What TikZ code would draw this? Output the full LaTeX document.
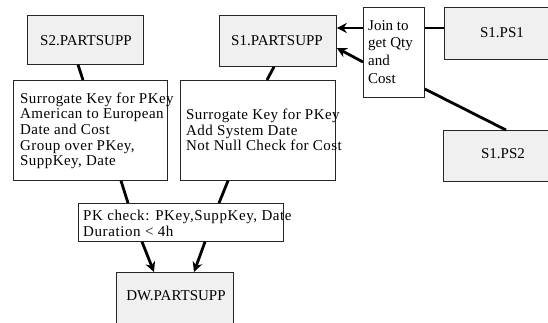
\documentclass[tikz,border=0pt]{standalone}
\usepackage{fontspec}
\setmainfont{Liberation Serif}
\usetikzlibrary{arrows.meta}
\begin{document}
\begin{tikzpicture}[x=1pt,y=-1pt,
  box/.style={draw=black!85,line width=0.8pt,rectangle,anchor=north west,inner sep=0pt},
  table/.style={box,fill=black!6},
  rule/.style={box,fill=white},
  label/.style={font=\fontsize{15}{16}\selectfont,inner sep=0pt},
  note/.style={inner sep=0pt,anchor=base west,align=left},
  link/.style={line width=2.8pt},
  flow/.style={line width=2.8pt,-{Stealth[length=10pt,width=10pt]}}]
\useasboundingbox (0,0) rectangle (548,323);
\clip (0,0) rectangle (548,323);

% source and target tables
\node[table,minimum width=116pt,minimum height=49pt] (s2) at (27,15) {};
\node[table,minimum width=117pt,minimum height=51pt] (s1) at (219,15) {};
\node[table,minimum width=110pt,minimum height=52pt] (ps1) at (444,7) {};
\node[table,minimum width=110pt,minimum height=51pt] (ps2) at (443,130) {};
\node[table,minimum width=117pt,minimum height=60pt] (dw) at (116,272) {};

% transformation boxes
\node[rule,minimum width=154pt,minimum height=100pt] (r1) at (13,80) {};
\node[rule,minimum width=155pt,minimum height=100pt] (r2) at (180,80) {};
\node[rule,minimum width=61pt,minimum height=90pt] (join) at (363,7) {};
\node[rule,minimum width=205pt,minimum height=38pt] (pk) at (78,203) {};

% table names
\node[label] (s2t) at (86,41) {S2.PARTSUPP};
\node[label] (s1t) at (277,41) {S1.PARTSUPP};
\node[label] (ps1t) at (502,33) {S1.PS1};
\node[label] (ps2t) at (503,154) {S1.PS2};
\node[label] (dwt) at (176,296) {DW.PARTSUPP};

% transformation texts (placed by the baseline of their last line)
\node[note,font=\fontsize{15}{15.7}\selectfont\addfontfeature{LetterSpace=3}] (r1t) at (20,166)
  {Surrogate Key for PKey\\American to European\\Date and Cost\\Group over PKey,\\SuppKey, Date};
\node[note,font=\fontsize{15}{15}\selectfont\addfontfeature{LetterSpace=3}] (r2t) at (186,150)
  {Surrogate Key for PKey\\Add System Date\\Not Null Check for Cost};
\node[note,font=\fontsize{15}{17.8}\selectfont] (joint) at (368,83.5)
  {Join to\\get Qty\\and\\Cost};
\node[note,font=\fontsize{15}{16}\selectfont\addfontfeature{LetterSpace=4}] (pkt) at (83,236)
  {PK check: PKey,SuppKey, Date\\Duration < 4h};

% connectors
\draw[link] ([xshift=51pt]s2.south west) -- ([xshift=70pt]r1.north west);
\draw[link] ([xshift=55pt]s1.south west) -- ([xshift=87pt]r2.north west);
\draw[link] ([xshift=108pt]r1.south west) -- ([xshift=50pt]pk.north west);
\draw[link] ([xshift=48pt]r2.south west) -- ([xshift=141pt]pk.north west);
\draw[flow] ([xshift=64pt]pk.south west) -- ([xshift=38pt]dw.north west);
\draw[flow] ([xshift=127pt]pk.south west) -- ([xshift=78pt]dw.north west);
\draw[link] ([yshift=-21pt]ps1.north west) -- ([yshift=-21pt]join.north east);
\draw[link] ([xshift=63pt]ps2.north west) -- ([yshift=-82pt]join.north east);
\draw[flow] ([yshift=-21pt]join.north west) -- ([yshift=-13pt]s1.north east);
\draw[flow] ([yshift=-55pt]join.north west) -- ([yshift=-33pt]s1.north east);
\end{tikzpicture}
\end{document}
